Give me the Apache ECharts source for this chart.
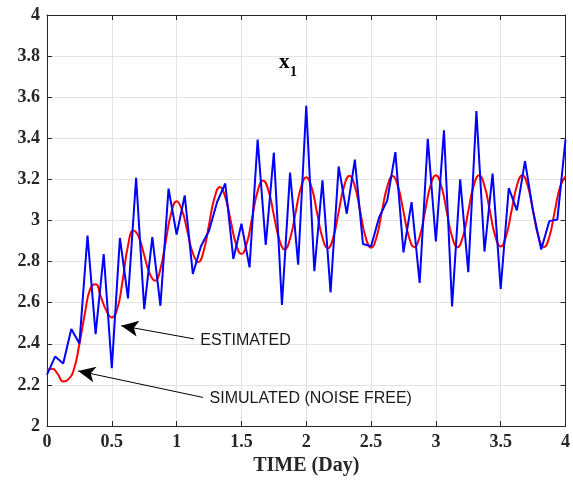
<!DOCTYPE html>
<html><head><meta charset="utf-8">
<script src="https://cdn.jsdelivr.net/npm/echarts@6/dist/echarts.min.js"></script>
<style>html,body{margin:0;padding:0;background:#fff}#c{width:573px;height:485px}</style>
</head><body><div id="c"></div>
<script>
// Time axis (days) and sampling steps
const xMin = 0, xMax = 4, xInterval = 0.5;
const yMin = 2, yMax = 4, yInterval = 0.2;
const estimatedStep = 1 / 16;   // blue samples every 1.5 h
const simulatedStep = 1 / 24;   // red samples every 1 h

// ESTIMATED (blue, noisy)
const estimated = [
  2.250, 2.338, 2.304, 2.472, 2.402, 2.927, 2.447, 2.837, 2.281, 2.915,
  2.621, 3.208, 2.569, 2.919, 2.585, 3.155, 2.932, 3.122, 2.740, 2.875,
  2.950, 3.090, 3.180, 2.813, 2.984, 2.772, 3.394, 2.881, 3.330, 2.589,
  3.233, 2.785, 3.558, 2.753, 3.195, 2.650, 3.263, 3.033, 3.296, 2.886,
  2.875, 3.016, 3.098, 3.333, 2.845, 3.089, 2.696, 3.398, 2.898, 3.439,
  2.582, 3.200, 2.748, 3.532, 2.849, 3.228, 2.667, 3.158, 3.049, 3.289,
  3.045, 2.859, 2.997, 3.005, 3.394
];

// SIMULATED (NOISE FREE) (red, smooth)
const simulated = [
  2.273, 2.278, 2.252, 2.216, 2.228, 2.277, 2.399, 2.545, 2.667, 2.690,
  2.626, 2.561, 2.528, 2.569, 2.707, 2.878, 2.951, 2.919, 2.831, 2.743,
  2.707, 2.764, 2.901, 3.037, 3.094, 3.050, 2.946, 2.841, 2.797, 2.851,
  2.980, 3.109, 3.163, 3.115, 3.000, 2.885, 2.837, 2.889, 3.016, 3.143,
  3.195, 3.146, 3.027, 2.908, 2.859, 2.911, 3.035, 3.159, 3.211, 3.160,
  3.038, 2.916, 2.865, 2.917, 3.042, 3.166, 3.218, 3.167, 3.043, 2.918,
  2.867, 2.918, 3.042, 3.165, 3.216, 3.165, 3.043, 2.921, 2.870, 2.921,
  3.045, 3.169, 3.220, 3.169, 3.045, 2.921, 2.870, 2.921, 3.045, 3.169,
  3.220, 3.169, 3.046, 2.924, 2.873, 2.924, 3.046, 3.169, 3.220, 3.169,
  3.045, 2.921, 2.870, 2.920, 3.043, 3.164, 3.215
];

// Annotations (data coordinates)
const annotations = [
  { text: 'ESTIMATED', from: [1.134, 2.424], to: [0.573, 2.488], textAt: [1.183, 2.418] },
  { text: 'SIMULATED (NOISE FREE)', from: [1.203, 2.139], to: [0.241, 2.268], textAt: [1.254, 2.132] }
];
const plotTitle = { main: 'x', sub: '1', at: [1.79, 3.715] };
const xName = 'TIME (Day)';

const axisColor = '#262626';
const gridColor = '#e3e3e3';
const serif = '"Liberation Serif", "Times New Roman", serif';
const sans = '"Liberation Sans", Arial, sans-serif';

const chart = echarts.init(document.getElementById('c'), null, { renderer: 'canvas' });

function xAxisDef(pos, show) {
  return {
    type: 'value', position: pos, min: xMin, max: xMax, interval: xInterval,
    axisLine: { show: true, onZero: false, lineStyle: { color: axisColor, width: 1 } },
    axisTick: { show: true, inside: true, length: 5, lineStyle: { color: axisColor } },
    axisLabel: show ? { show: true, margin: 7, color: axisColor, fontFamily: serif, fontWeight: 'bold', fontSize: 18 } : { show: false },
    splitLine: { show: show, lineStyle: { color: gridColor, width: 1 } },
    name: show ? xName : '', nameLocation: 'middle', nameGap: 29,
    nameTextStyle: { color: axisColor, fontFamily: serif, fontWeight: 'bold', fontSize: 20 }
  };
}
function yAxisDef(pos, show) {
  return {
    type: 'value', position: pos, min: yMin, max: yMax, interval: yInterval,
    axisLine: { show: true, onZero: false, lineStyle: { color: axisColor, width: 1 } },
    axisTick: { show: true, inside: true, length: 5, lineStyle: { color: axisColor } },
    axisLabel: show ? { show: true, margin: 7, color: axisColor, fontFamily: serif, fontWeight: 'bold', fontSize: 18 } : { show: false },
    splitLine: { show: show, lineStyle: { color: gridColor, width: 1 } }
  };
}

chart.setOption({
  animation: false,
  backgroundColor: '#ffffff',
  grid: { left: 47, right: 4, top: 15, bottom: 59, containLabel: false },
  xAxis: [xAxisDef('bottom', true), xAxisDef('top', false)],
  yAxis: [yAxisDef('left', true), yAxisDef('right', false)],
  series: [
    {
      name: 'SIMULATED (NOISE FREE)', type: 'line', xAxisIndex: 0, yAxisIndex: 0,
      data: simulated.map((v, i) => [i * simulatedStep, v]),
      smooth: 0.5, showSymbol: false, symbol: 'none',
      lineStyle: { color: '#ff0000', width: 2 }, z: 2
    },
    {
      name: 'ESTIMATED', type: 'line', xAxisIndex: 0, yAxisIndex: 0,
      data: estimated.map((v, i) => [i * estimatedStep, v]),
      showSymbol: false, symbol: 'none',
      lineStyle: { color: '#0000ff', width: 2 }, z: 3,
      markLine: {
        silent: true, symbol: ['none', 'arrow'], symbolSize: [12, 17],
        label: { show: false },
        lineStyle: { color: '#000000', width: 1, type: 'solid' },
        data: annotations.map(a => [{ coord: a.from }, { coord: a.to }])
      }
    }
  ]
});

const graphics = [];
annotations.forEach(a => {
  const p = chart.convertToPixel({ xAxisIndex: 0, yAxisIndex: 0 }, a.textAt);
  graphics.push({
    type: 'text', x: p[0], y: p[1], z: 10,
    style: { text: a.text, fill: '#1a1a1a', font: '16px ' + sans, textVerticalAlign: 'middle', verticalAlign: 'middle' }
  });
});
const tp = chart.convertToPixel({ xAxisIndex: 0, yAxisIndex: 0 }, plotTitle.at);
graphics.push({
  type: 'text', x: tp[0], y: tp[1], z: 10,
  style: { text: plotTitle.main, fill: '#000', font: 'bold 21px ' + serif, verticalAlign: 'bottom', textVerticalAlign: 'bottom' }
});
graphics.push({
  type: 'text', x: tp[0] + 11, y: tp[1] + 6, z: 10,
  style: { text: plotTitle.sub, fill: '#000', font: 'bold 14px ' + serif, verticalAlign: 'bottom', textVerticalAlign: 'bottom' }
});
chart.setOption({ graphic: graphics });
</script>
</body></html>
